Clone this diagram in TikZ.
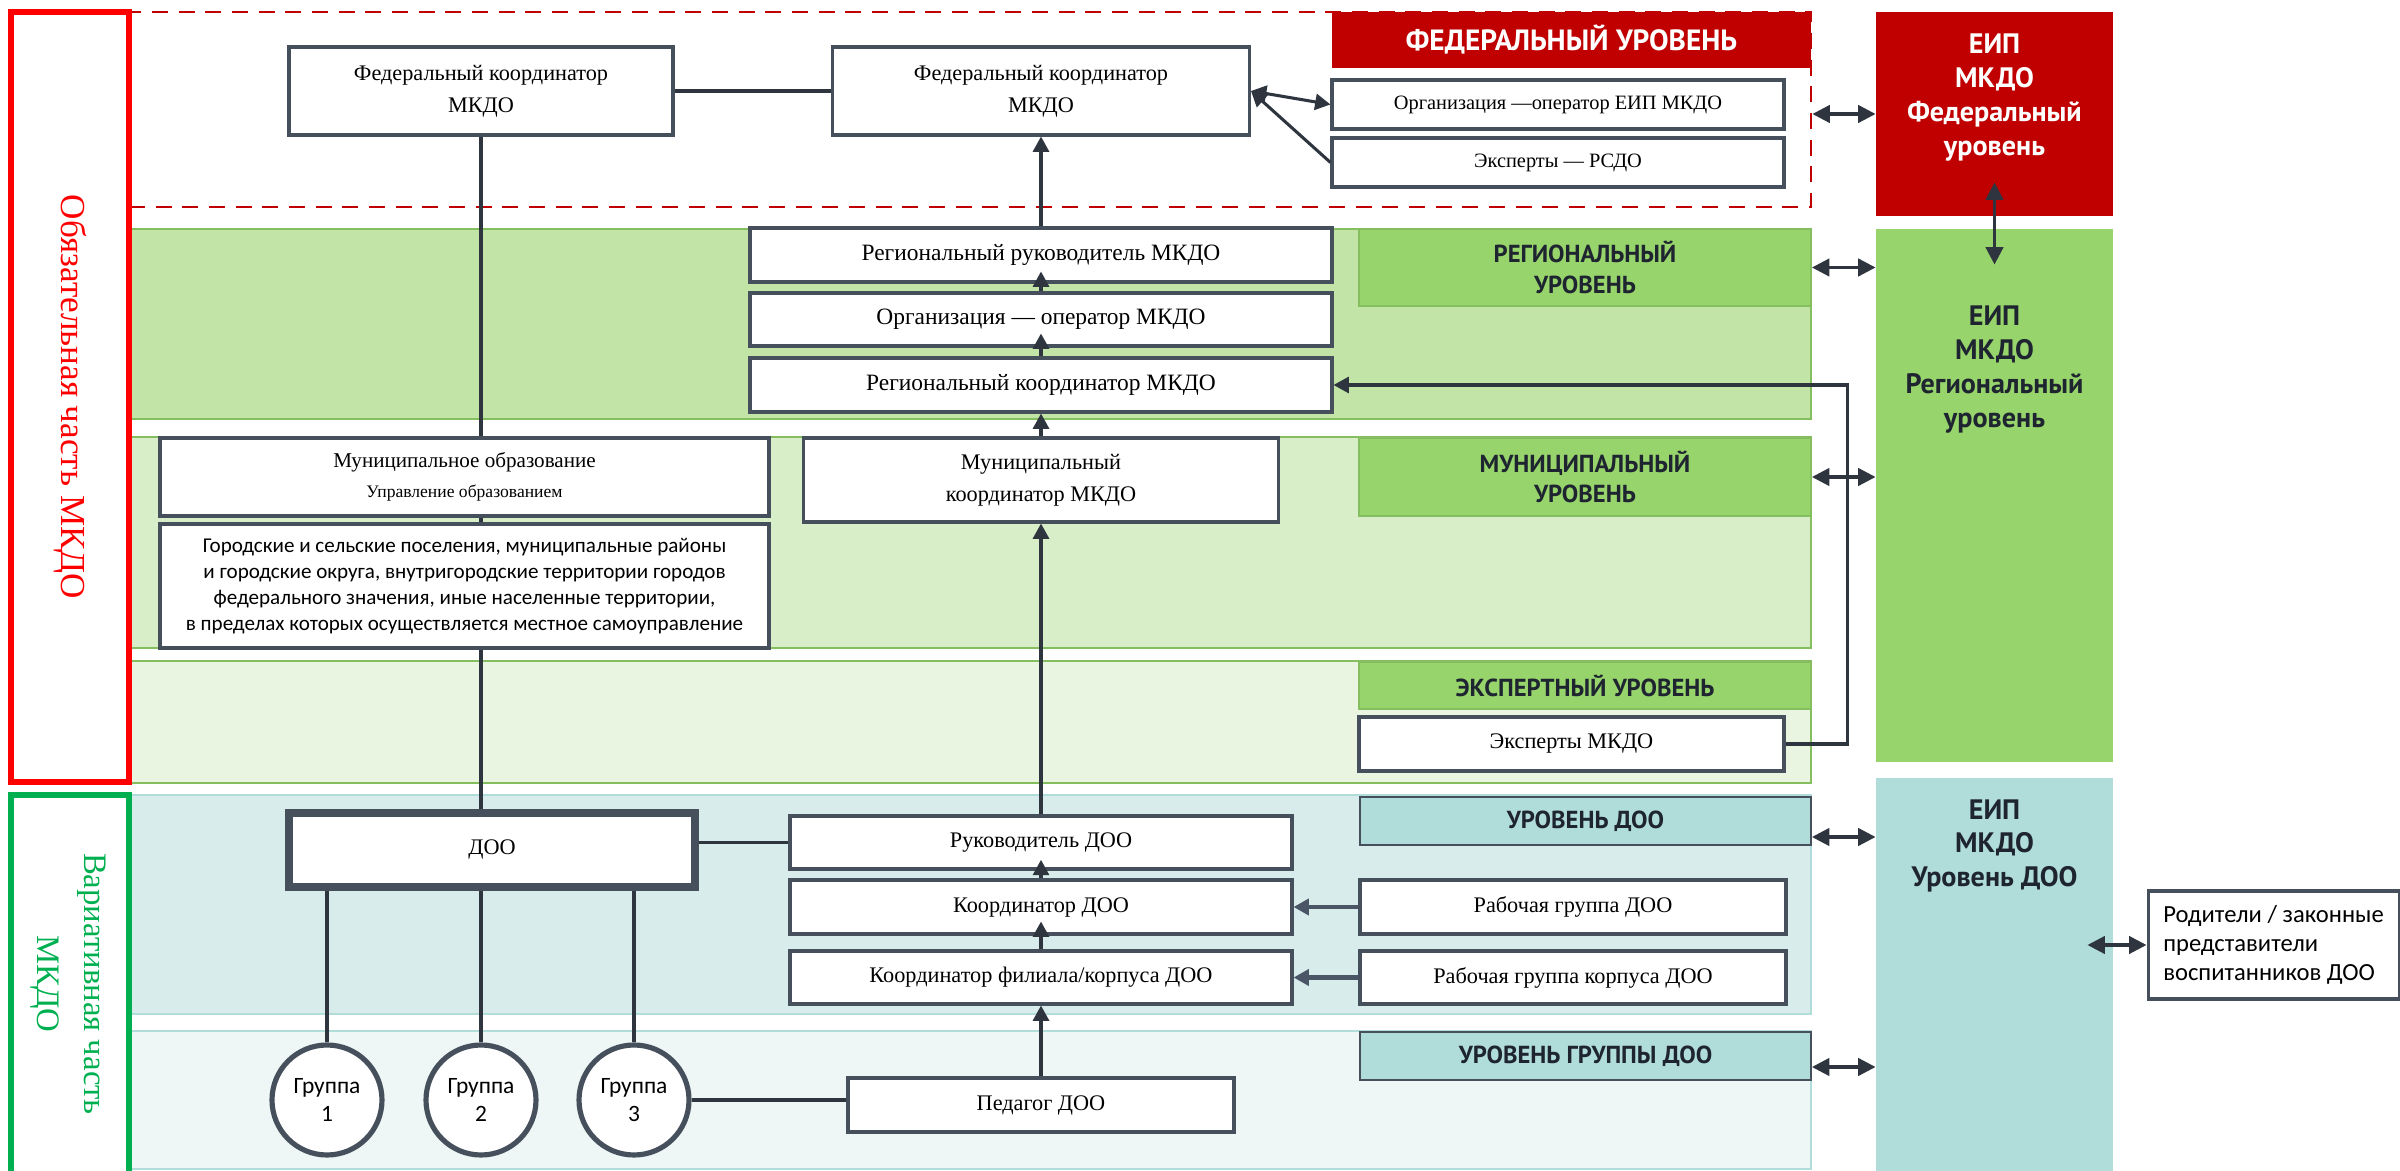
\documentclass[tikz,border=0pt]{standalone}
\usepackage{fontspec}
\setmainfont{Liberation Serif}
\newfontfamily\headfont{PT Sans}
\newfontfamily\plainfont{Carlito}
\usetikzlibrary{positioning, arrows.meta, calc}
\definecolor{linec}{HTML}{2E353F}
\definecolor{boxc}{HTML}{46505C}
\definecolor{fedred}{HTML}{C00000}
\definecolor{brightred}{HTML}{FF0000}
\definecolor{vargreen}{HTML}{00B050}
\definecolor{reggreen}{HTML}{C2E4A6}
\definecolor{mungreen}{HTML}{D7EEC8}
\definecolor{expgreen}{HTML}{E9F5E0}
\definecolor{hdgreen}{HTML}{97D46B}
\definecolor{bdgreen}{HTML}{84BE5F}
\definecolor{tealhd}{HTML}{B0DCDA}
\definecolor{dooteal}{HTML}{D8ECEB}
\definecolor{grpteal}{HTML}{EEF7F6}
\definecolor{arrowgray}{HTML}{4A5566}
\definecolor{hdtext}{HTML}{1E2530}
\tikzset{
	every edge/.style={
		draw, ->, >={Triangle[length=2.3mm,width=2.4mm]}, line width=1.3pt, color=linec
	}
}

\begin{document}
\begin{tikzpicture}[x=0.15mm, y=-0.15mm,
	wh/.style 2 args={minimum width=#1*0.15mm, minimum height=#2*0.15mm},
	box/.style={draw=boxc, line width=1.3pt, fill=white, inner sep=0pt, align=center, font=\fontsize{9.5}{13.5}\selectfont},
	zone/.style={line width=1.2pt, inner sep=0pt},
	lvl/.style={draw=bdgreen, line width=0.8pt, fill=hdgreen, inner sep=0pt, align=center, text=hdtext, font=\headfont\bfseries\fontsize{10.5}{13}\selectfont},
	eip/.style={inner sep=0pt, align=center, font=\headfont\bfseries\fontsize{12}{14.5}\selectfont},
	grp/.style={circle, draw=boxc, line width=2.2pt, fill=white, minimum size=110*0.15mm, inner sep=0pt, align=center, font=\plainfont\fontsize{10}{12}\selectfont},
	link/.style={draw=linec, line width=1.3pt},
	twoway/.style={draw=linec, line width=1.3pt, {Triangle[length=2.6mm,width=2.6mm]}-{Triangle[length=2.6mm,width=2.6mm]}}]
	\useasboundingbox (0,0) rectangle (2400,1171);

	% levels
	\node[zone, draw=fedred, dash pattern=on 2.4mm off 1.6mm, fill=white, wh={1682}{195}] (fedzone) at (970,109.5) {};
	\node[zone, draw=bdgreen, fill=reggreen, wh={1680}{190}] (regzone) at (971,324) {};
	\node[zone, draw=bdgreen, fill=mungreen, wh={1680}{211}] (munzone) at (971,542.5) {};
	\node[zone, draw=bdgreen, fill=expgreen, wh={1680}{122}] (expzone) at (971,722) {};
	\node[zone, draw=tealhd, fill=dooteal, wh={1680}{219}] (doozone) at (971,904.5) {};
	\node[zone, draw=tealhd, fill=grpteal, wh={1680}{138}] (grpzone) at (971,1100) {};

	% parts
	\node[zone, draw=brightred, line width=2.2pt, wh={118}{770}] (mandpart) at (70,397) {};
	\node[rotate=-90, text=brightred, font=\fontsize{15}{18}\selectfont] (mandtxt) at (mandpart) {Обязательная часть МКДО};
	\node[zone, draw=vargreen, line width=2.2pt, wh={118}{400}] (varpart) at (70,995) {};
	\node[rotate=-90, text=vargreen, align=center, font=\fontsize{14}{20}\selectfont] (vartxt) at (68,984) {Вариативная часть\\МКДО};

	% federal
	\node[fill=fedred, inner sep=0pt, text=white, font=\headfont\bfseries\fontsize{12.5}{15}\selectfont, wh={479}{56}] (fedhead) at (1571.5,40) {ФЕДЕРАЛЬНЫЙ УРОВЕНЬ};
	\node[box, font=\fontsize{8.7}{12}\selectfont, wh={452}{49}] (orgeip) at (1558,104.5) {Организация —оператор ЕИП МКДО};
	\node[box, font=\fontsize{8.7}{12}\selectfont, wh={452}{49}] (rsdo) at (1558,162.5) {Эксперты — РСДО};
	\node[box, wh={384}{88}] (fed1) at (481,91) {Федеральный координатор\\МКДО};
	\node[box, wh={417}{88}] (fed2) at (1041,91) {Федеральный координатор\\МКДО};

	% regional
	\node[box, font=\fontsize{10}{13}\selectfont, wh={582}{54}] (reghead) at (1041,255) {Региональный руководитель МКДО};
	\node[box, font=\fontsize{10}{13}\selectfont, wh={582}{53}] (orgop) at (1041,319.5) {Организация — оператор МКДО};
	\node[box, font=\fontsize{10}{13}\selectfont, wh={582}{54}] (regcoord) at (1041,385) {Региональный координатор МКДО};
	\node[lvl, wh={452}{77}] (reglvl) at (1585,267.5) {РЕГИОНАЛЬНЫЙ\\УРОВЕНЬ};

	% municipal
	\node[box, font=\fontsize{9}{13}\selectfont, wh={609}{78}] (munobr) at (464.5,477) {Муниципальное образование\\{\fontsize{7.5}{9}\selectfont Управление образованием}};
	\node[box, font=\plainfont\fontsize{9}{11}\selectfont, wh={609}{124}] (city) at (464.5,586) {Городские и сельские поселения, муниципальные районы\\и городские округа, внутригородские территории городов\\федерального значения, иные населенные территории,\\в пределах которых осуществляется местное самоуправление};
	\node[box, wh={475}{84}] (muncoord) at (1041,480) {Муниципальный\\координатор МКДО};
	\node[lvl, wh={452}{78}] (munlvl) at (1585,477) {МУНИЦИПАЛЬНЫЙ\\УРОВЕНЬ};

	% experts
	\node[lvl, wh={452}{47}] (explvl) at (1585,685.5) {ЭКСПЕРТНЫЙ УРОВЕНЬ};
	\node[box, wh={425}{54}] (expmkdo) at (1571.5,744) {Эксперты МКДО};

	% DOO
	\node[box, line width=3pt, wh={406}{74}] (doo) at (492,850) {ДОО};
	\node[box, wh={502}{53}] (dooruk) at (1041,842.5) {Руководитель ДОО};
	\node[box, wh={502}{54}] (doocoord) at (1041,907) {Координатор ДОО};
	\node[box, wh={502}{53}] (filcoord) at (1041,977.5) {Координатор филиала/корпуса ДОО};
	\node[lvl, fill=tealhd, draw=boxc, wh={451}{48}] (doolvl) at (1585.5,821) {УРОВЕНЬ ДОО};
	\node[box, wh={426}{54}] (wg) at (1573,907) {Рабочая группа ДОО};
	\node[box, wh={426}{53}] (wgk) at (1573,977.5) {Рабочая группа корпуса ДОО};

	% groups
	\node[lvl, fill=tealhd, draw=boxc, wh={451}{48}] (grplvl) at (1585.5,1056) {УРОВЕНЬ ГРУППЫ ДОО};
	\node[grp] (g1) at (327,1100) {Группа\\1};
	\node[grp] (g2) at (481,1100) {Группа\\2};
	\node[grp] (g3) at (634,1100) {Группа\\3};
	\node[box, wh={386}{54}] (ped) at (1041,1105) {Педагог ДОО};

	% EIP
	\node[eip, fill=fedred, wh={237}{204}, label={[eip, text=white, anchor=north, yshift=-3.3mm]north:{ЕИП\\МКДО\\Федеральный\\уровень}}] (eipfed) at (1994.5,114) {};
	\node[eip, fill=hdgreen, wh={237}{533}, label={[eip, text=hdtext, anchor=north, yshift=-11.5mm]north:{ЕИП\\МКДО\\Региональный\\уровень}}] (eipreg) at (1994.5,495.5) {};
	\node[eip, fill=tealhd, wh={237}{393}, label={[eip, text=hdtext, anchor=north, yshift=-3.2mm]north:{ЕИП\\МКДО\\Уровень ДОО}}] (eipdoo) at (1994.5,974.5) {};
	\node[box, font=\plainfont\fontsize{10.5}{12.5}\selectfont, align=left, wh={251}{108}] (parents) at (2273.5,945) {Родители / законные\\представители\\воспитанников ДОО};

	% connectors
	\draw[link, line width=1.7pt] (fed1) -- (fed2);
	\draw[link] (fed1.south) -- (fed1.south |- munobr.north);
	\draw[link] (fed1.south |- munobr.south) -- (fed1.south |- city.north);
	\draw[link] (fed1.south |- city.south) -- (fed1.south |- doo.north);
	\draw (reghead) edge (fed2);
	\draw (orgop.north) edge ([yshift=1.8mm]reghead.south);
	\draw (regcoord.north) edge ([yshift=2.1mm]orgop.south);
	\draw (muncoord) edge (regcoord);
	\draw (dooruk) edge (muncoord);
	\draw (doocoord.north) edge ([yshift=1.6mm]dooruk.south);
	\draw (filcoord.north) edge ([yshift=2.1mm]doocoord.south);
	\draw (ped) edge (filcoord);
	\draw (fed2.east) edge[<->] (orgeip.west);
	\draw (rsdo.west) edge (fed2.east);
	\draw[link, -{Triangle[length=2.3mm,width=2.4mm]}] (expmkdo.east) -- ++(62,0) |- (regcoord.east);
	\draw (wg) edge[draw=arrowgray, line width=1.8pt] (doocoord);
	\draw (wgk) edge[draw=arrowgray, line width=1.8pt] (filcoord);
	\draw[link, line width=1.7pt] (doo.east |- dooruk.west) -- (dooruk.west);
	\foreach \g in {g1,g2,g3}
		\draw[link] (\g.north |- doo.south) -- (\g.north);
	\draw[link] (g3.east) -- (g3.east -| ped.west);
	\draw[twoway] (fedzone.east |- eipfed.west) -- (eipfed.west);
	\draw[twoway] (reglvl.east) -- (reglvl.east -| eipreg.west);
	\draw[twoway] (munlvl.east) -- (munlvl.east -| eipreg.west);
	\draw[twoway] ([yshift=-2.4mm]doolvl.east) -- ([yshift=-2.4mm]doolvl.east -| eipdoo.west);
	\draw[twoway] ([yshift=-1.65mm]grplvl.east) -- ([yshift=-1.65mm]grplvl.east -| eipdoo.west);
	\draw[twoway] ([yshift=5.1mm]eipfed.south) -- ([yshift=-5.4mm]eipreg.north);
	\draw[twoway] ([xshift=-3.9mm]eipdoo.east |- parents.west) -- (parents.west);
\end{tikzpicture}
\end{document}
